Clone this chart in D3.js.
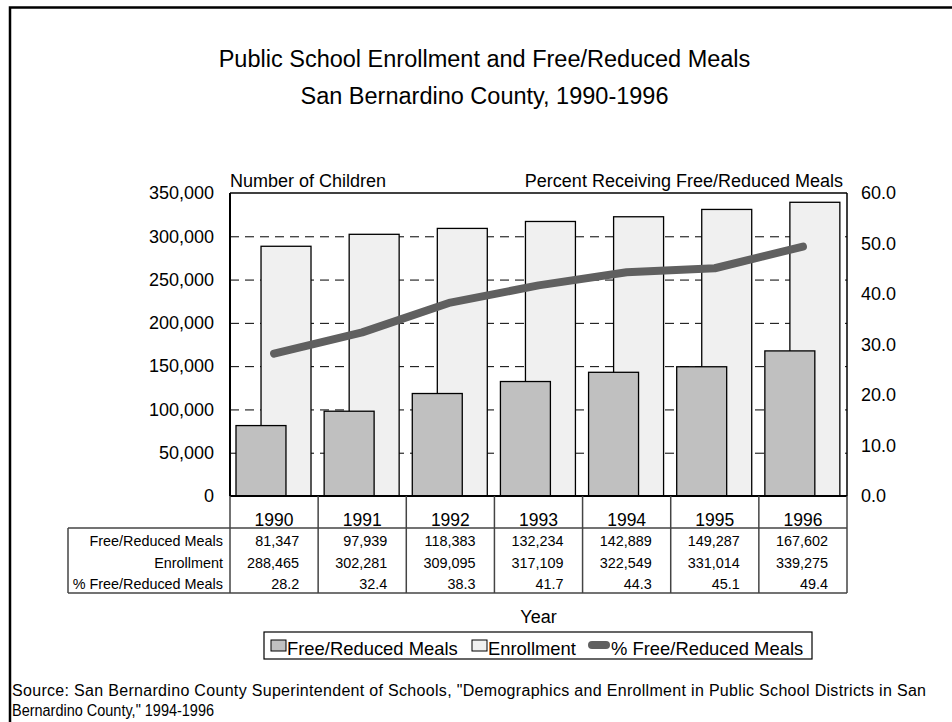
<!DOCTYPE html>
<html><head><meta charset="utf-8">
<script src="https://cdn.jsdelivr.net/npm/d3@7"></script>
<style>
body{margin:0;background:#fff}
text{font-family:"Liberation Sans",Arial,Helvetica,sans-serif;fill:#000}
</style>
</head><body>
<svg id="c" width="952" height="722"></svg>
<script>
const years = ["1990","1991","1992","1993","1994","1995","1996"];
const freeReduced = [81347, 97939, 118383, 132234, 142889, 149287, 167602];
const enrollment = [288465, 302281, 309095, 317109, 322549, 331014, 339275];
const pctFree = [28.2, 32.4, 38.3, 41.7, 44.3, 45.1, 49.4];
const leftTicks = [0, 50000, 100000, 150000, 200000, 250000, 300000, 350000];
const gridTicks = [50000, 100000, 150000, 200000, 250000, 300000];
const rightTicks = [0, 10, 20, 30, 40, 50, 60];
const rowLabels = ["Free/Reduced Meals", "Enrollment", "% Free/Reduced Meals"];
const legendLabels = ["Free/Reduced Meals", "Enrollment", "% Free/Reduced Meals"];

const svg = d3.select("#c");
const L = 230, R = 847, T = 193, B = 496;
const x = d3.scaleBand().domain(years).range([L, R]).padding(0);
const bw = x.bandwidth();
const yL = d3.scaleLinear().domain([0, 350000]).range([B, T]);
const yR = d3.scaleLinear().domain([0, 60]).range([B, T]);

// outer frame
svg.append("path").attr("d", "M10,722 L10,7.5 L952,7.5").attr("fill","none").attr("stroke","#000").attr("stroke-width",2.5);

// titles
svg.append("text").attr("x",484.5).attr("y",67).attr("text-anchor","middle").style("font-size","23.5px").text("Public School Enrollment and Free/Reduced Meals");
svg.append("text").attr("x",484.5).attr("y",104).attr("text-anchor","middle").style("font-size","23.5px").text("San Bernardino County, 1990-1996");

svg.append("text").attr("x",L).attr("y",187).style("font-size","18px").text("Number of Children");
svg.append("text").attr("x",843).attr("y",187).attr("text-anchor","end").style("font-size","18px").text("Percent Receiving Free/Reduced Meals");

// gridlines
const grid = svg.append("g").attr("transform",`translate(${L},0)`)
  .call(d3.axisLeft(yL).tickValues(gridTicks).tickSize(-(R-L)).tickFormat(""));
grid.select(".domain").remove();
grid.selectAll("line").attr("stroke","#000").attr("stroke-dasharray","9,6").attr("stroke-width",1);

// bars
const data = years.map((yr,i)=>({yr, fr:freeReduced[i], en:enrollment[i], p:pctFree[i]}));
svg.append("g").selectAll("rect").data(data).join("rect")
  .attr("x", d=>x(d.yr)+bw*0.352).attr("width", bw*0.567)
  .attr("y", d=>yL(d.en)).attr("height", d=>yL(0)-yL(d.en))
  .attr("fill","#f0f0f0").attr("stroke","#000").attr("stroke-width",1.3);
svg.append("g").selectAll("rect").data(data).join("rect")
  .attr("x", d=>x(d.yr)+bw*0.068).attr("width", bw*0.567)
  .attr("y", d=>yL(d.fr)).attr("height", d=>yL(0)-yL(d.fr))
  .attr("fill","#c0c0c0").attr("stroke","#000").attr("stroke-width",1.3);

// frame of plot
svg.append("line").attr("x1",L).attr("x2",R).attr("y1",T).attr("y2",T).attr("stroke","#000").attr("stroke-width",1.5);
svg.append("line").attr("x1",R).attr("x2",R).attr("y1",T).attr("y2",B).attr("stroke","#000").attr("stroke-width",1.5);
svg.append("line").attr("x1",L).attr("x2",R).attr("y1",B).attr("y2",B).attr("stroke","#000").attr("stroke-width",2);
svg.append("line").attr("x1",L).attr("x2",L).attr("y1",T).attr("y2",B).attr("stroke","#000").attr("stroke-width",2);

// percent line
const line = d3.line().x(d=>x(d.yr)+bw/2).y(d=>yR(d.p));
svg.append("path").datum(data).attr("d", line).attr("fill","none")
  .attr("stroke","#606060").attr("stroke-width",8).attr("stroke-linecap","round").attr("stroke-linejoin","round");

// axes labels
const ax1 = svg.append("g").attr("transform",`translate(${L},0)`)
  .call(d3.axisLeft(yL).tickValues(leftTicks).tickSize(0).tickPadding(16).tickFormat(d3.format(",")));
ax1.select(".domain").remove();
ax1.selectAll("text").style("font-size","18px").attr("font-family",null);
const ax2 = svg.append("g").attr("transform",`translate(${R},0)`)
  .call(d3.axisRight(yR).tickValues(rightTicks).tickSize(0).tickPadding(14).tickFormat(d3.format(".1f")));
ax2.select(".domain").remove();
ax2.selectAll("text").style("font-size","18px").attr("font-family",null);

// data table
const tcol = "#444";
const tbl = svg.append("g");
tbl.append("line").attr("x1",68).attr("x2",R).attr("y1",528).attr("y2",528).attr("stroke",tcol).attr("stroke-width",1.5);
tbl.append("line").attr("x1",68).attr("x2",R).attr("y1",593).attr("y2",593).attr("stroke",tcol).attr("stroke-width",1.5);
tbl.append("line").attr("x1",68).attr("x2",68).attr("y1",528).attr("y2",593).attr("stroke",tcol).attr("stroke-width",1.5);
const seps = years.map(y=>x(y)).concat([R]);
tbl.selectAll("line.sep").data(seps).join("line").attr("class","sep")
  .attr("x1",d=>d).attr("x2",d=>d).attr("y1",B).attr("y2",593).attr("stroke",tcol).attr("stroke-width",1.5);
tbl.selectAll("text.yr").data(years).join("text").attr("class","yr")
  .attr("x",d=>x(d)+bw/2).attr("y",525.5).attr("text-anchor","middle").style("font-size","17.5px").text(d=>d);
const rowY = [546, 567.5, 589];
tbl.selectAll("text.rl").data(rowLabels).join("text").attr("class","rl")
  .attr("x",223).attr("y",(d,i)=>rowY[i]).attr("text-anchor","end").style("font-size","14.4px").text(d=>d);
const fmtN = d3.format(","), fmtP = d3.format(".1f");
const cells = [];
data.forEach(d=>{
  cells.push({yr:d.yr, r:0, t:fmtN(d.fr)});
  cells.push({yr:d.yr, r:1, t:fmtN(d.en)});
  cells.push({yr:d.yr, r:2, t:fmtP(d.p)});
});
tbl.selectAll("text.cv").data(cells).join("text").attr("class","cv")
  .attr("x",d=>x(d.yr)+bw-19).attr("y",d=>rowY[d.r]).attr("text-anchor","end").style("font-size","14.4px").text(d=>d.t);

// x title
svg.append("text").attr("x",(L+R)/2).attr("y",623).attr("text-anchor","middle").style("font-size","18px").text("Year");

// legend
const lg = svg.append("g");
lg.append("rect").attr("x",264).attr("y",632).attr("width",548).attr("height",27).attr("fill","#fff").attr("stroke","#000").attr("stroke-width",1.2);
lg.append("rect").attr("x",271).attr("y",640).attr("width",15).attr("height",11).attr("fill","#c0c0c0").attr("stroke","#000").attr("stroke-width",1);
lg.append("text").attr("x",287).attr("y",655).style("font-size","18.4px").text(legendLabels[0]);
lg.append("rect").attr("x",472).attr("y",640).attr("width",15).attr("height",11).attr("fill","#f0f0f0").attr("stroke","#000").attr("stroke-width",1);
lg.append("text").attr("x",488).attr("y",655).style("font-size","18.4px").text(legendLabels[1]);
lg.append("line").attr("x1",592).attr("x2",606).attr("y1",645).attr("y2",645).attr("stroke","#606060").attr("stroke-width",8).attr("stroke-linecap","round");
lg.append("text").attr("x",611).attr("y",655).style("font-size","18.4px").text(legendLabels[2]);

// source
svg.append("text").attr("x",12).attr("y",696).style("font-size","16px")
  .attr("textLength",914).attr("lengthAdjust","spacing")
  .text("Source:  San Bernardino County Superintendent of Schools, \"Demographics and Enrollment in Public School Districts in San");
svg.append("text").attr("x",12).attr("y",716).style("font-size","16px")
  .attr("textLength",202).attr("lengthAdjust","spacingAndGlyphs")
  .text("Bernardino County,\" 1994-1996");
</script>
</body></html>
